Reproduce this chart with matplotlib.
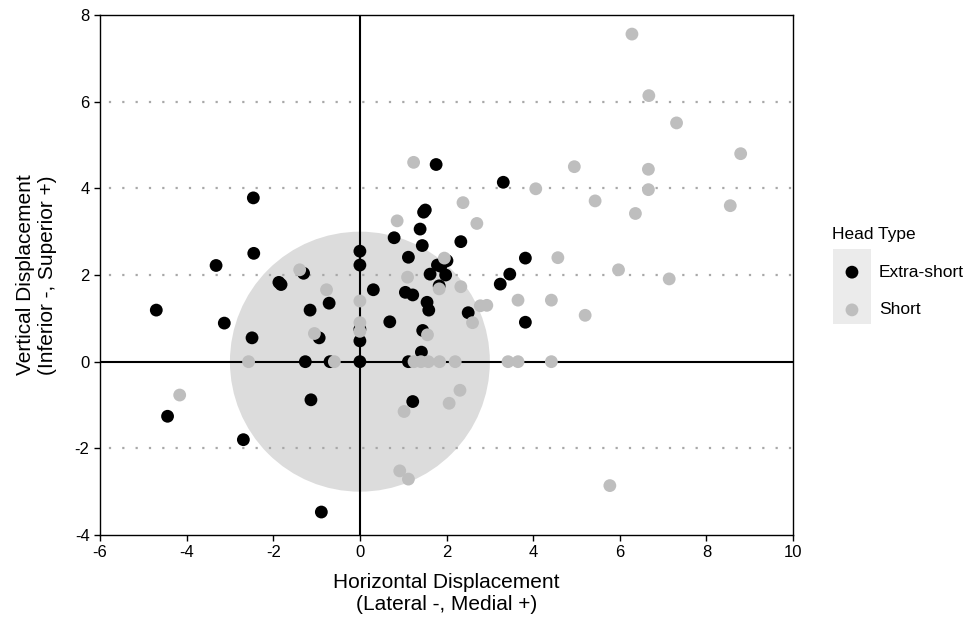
import numpy as np
import matplotlib.pyplot as plt
from matplotlib.patches import Circle, Rectangle

plt.rcParams['font.family'] = ['Liberation Sans', 'DejaVu Sans']
plt.rcParams['axes.unicode_minus'] = False

# Extra-short head type
xs_x = [-4.70, -4.44, -3.32, -3.13, -2.46, -2.45, -2.49, -2.69, -1.87, -1.82,
        -1.30, -1.15, -1.13, -1.26, -0.71, -0.94, -0.69, -0.89, 0.00, 0.00,
        0.00, 0.00, 0.00, 0.31, 0.69, 0.79, 1.12, 1.05, 1.22, 1.12, 1.22,
        1.39, 1.44, 1.47, 1.51, 1.76, 1.79, 1.87, 2.01, 1.62, 1.98, 1.83,
        1.55, 1.59, 1.45, 1.42, 2.33, 2.50, 3.24, 3.31, 3.46, 3.82, 3.82]
xs_y = [1.19, -1.26, 2.22, 0.89, 3.78, 2.50, 0.55, -1.80, 1.83, 1.78,
        2.04, 1.19, -0.88, 0.00, 1.35, 0.55, 0.00, -3.47, 2.55, 2.23,
        0.75, 0.48, 0.00, 1.66, 0.92, 2.86, 2.41, 1.60, 1.54, 0.00, -0.92,
        3.06, 2.68, 3.45, 3.50, 4.55, 2.23, 2.20, 2.33, 2.02, 2.00, 1.75,
        1.37, 1.19, 0.72, 0.22, 2.77, 1.13, 1.79, 4.14, 2.02, 2.39, 0.91]

# Short head type
sh_x = [-4.16, -2.57, -1.39, -1.05, -0.77, -0.59, 0.00, 0.00, 0.00, 0.86,
        1.10, 1.24, 1.25, 1.41, 1.56, 1.58, 1.83, 1.84, 1.95, 2.20, 2.33,
        2.38, 2.60, 2.70, 2.78, 2.93, 3.42, 3.65, 3.65, 4.06, 4.42, 4.42,
        4.57, 4.95, 5.20, 5.43, 5.77, 5.97, 6.28, 6.36, 6.66, 6.66, 6.67,
        7.14, 7.31, 8.55, 8.79, 1.02, 2.06, 2.31, 0.92, 1.12]
sh_y = [-0.77, 0.00, 2.12, 0.65, 1.66, 0.00, 1.40, 0.90, 0.70, 3.25,
        1.95, 4.60, 0.00, 0.00, 0.62, 0.00, 1.68, 0.00, 2.39, 0.00, 1.73,
        3.67, 0.90, 3.19, 1.29, 1.30, 0.00, 0.00, 1.42, 3.99, 1.42, 0.00,
        2.40, 4.50, 1.07, 3.71, -2.86, 2.12, 7.56, 3.42, 4.44, 3.97, 6.14,
        1.91, 5.51, 3.60, 4.80, -1.15, -0.96, -0.66, -2.52, -2.71]

grid_y = [-2, 2, 4, 6]
zone_radius = 3

fig = plt.figure(figsize=(9.66, 6.18), dpi=100)
ax = fig.add_axes([0.1035, 0.1343, 0.7175, 0.8414])

ax.add_patch(Circle((0, 0), zone_radius, facecolor='#dcdcdc', edgecolor='none', zorder=0))
for gy in grid_y:
    ax.axhline(gy, color='#a8a8a8', lw=1.6, ls=(2, (1, 5)), zorder=1)
ax.axhline(0, color='black', lw=1.5, zorder=2)
ax.axvline(0, color='black', lw=1.5, zorder=2)

ax.scatter(xs_x, xs_y, s=85, c='black', edgecolors='none', zorder=3, label='Extra-short')
ax.scatter(sh_x, sh_y, s=85, c='#bebebe', edgecolors='none', zorder=4, label='Short')

ax.set_xlim(-6, 10)
ax.set_ylim(-4, 8)
ax.set_xticks(np.arange(-6, 11, 2))
ax.set_yticks(np.arange(-4, 9, 2))
ax.tick_params(labelsize=12, length=4, width=1, colors='black')
for sp in ax.spines.values():
    sp.set_linewidth(1)
    sp.set_color('black')

ax.set_xlabel('Horizontal Displacement\n(Lateral -, Medial +)', fontsize=15, labelpad=9)
ax.set_ylabel('Vertical Displacement\n(Inferior -, Superior +)', fontsize=15, labelpad=13)

# legend key background
fig.add_artist(Rectangle((833 / 966, 1 - 324 / 618), 38 / 966, 75 / 618,
                         transform=fig.transFigure, facecolor='#ebebeb', edgecolor='none', zorder=0))
leg = ax.legend(title='Head Type', loc='upper left', bbox_to_anchor=(832 / 966, 1 - 227 / 618),
                bbox_transform=fig.transFigure, frameon=False, fontsize=12.5, title_fontsize=12.5,
                handlelength=2.3, handletextpad=0.4, labelspacing=1.3, borderpad=0, borderaxespad=0)
leg._legend_box.align = 'left'

fig.savefig('out.png', dpi=100)
